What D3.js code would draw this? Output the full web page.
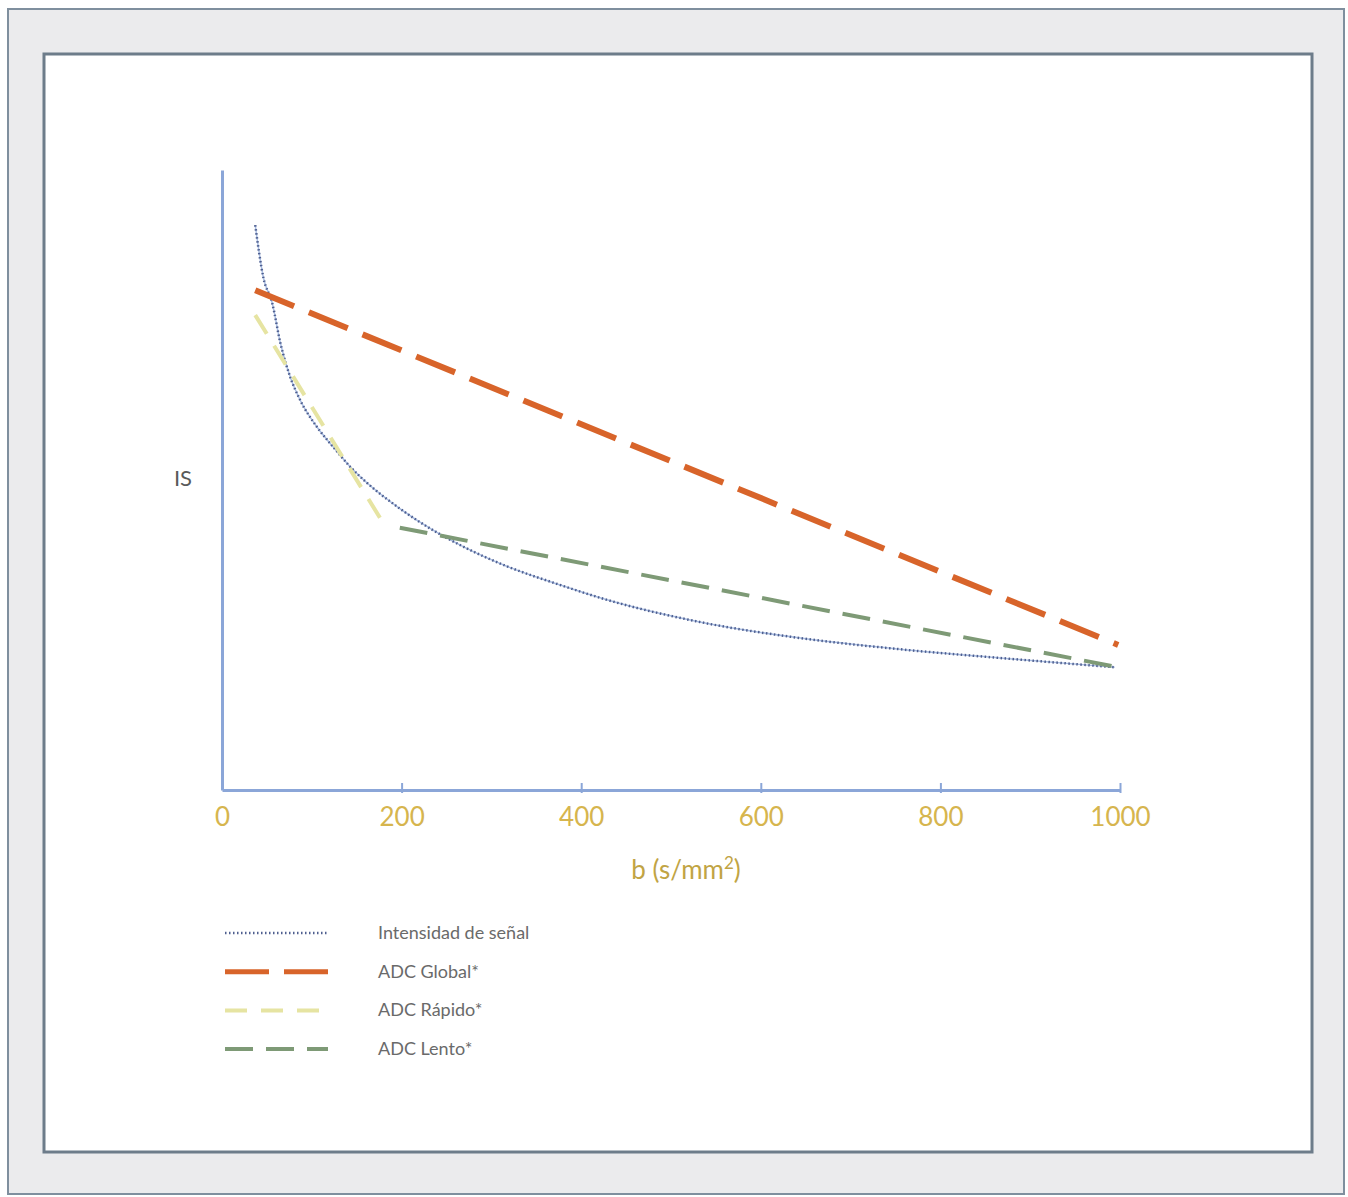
<!DOCTYPE html>
<html>
<head>
<meta charset="utf-8">
<script src="https://cdn.jsdelivr.net/npm/d3@7"></script>
<style>
  body { margin: 0; background: #ffffff; }
  svg { display: block; }
</style>
</head>
<body>
<svg id="chart"></svg>
<script>
// b values (s/mm2) and signal intensity
var signalB  = [37, 46, 56, 65, 76, 87, 106, 124, 143, 161, 198, 235, 268, 317, 376, 421, 532, 644, 755, 866, 994];
var signalIS = [91.1, 82.7, 78.5, 72.1, 66.6, 62.9, 58.5, 55.3, 52.1, 49.6, 45.4, 41.9, 39.3, 36.1, 33.1, 31.0, 27.1, 24.5, 22.7, 21.3, 19.8];

var globalB  = [37, 998];
var globalIS = [80.6, 23.4];

var rapidoB  = [37, 181];
var rapidoIS = [76.6, 42.7];

var lentoB   = [198, 998];
var lentoIS  = [42.3, 19.8];

var xTicks = [0, 200, 400, 600, 800, 1000];

var legendNames = ["Intensidad de señal", "ADC Global*", "ADC Rápido*", "ADC Lento*"];

var width = 1348, height = 1197;
var svg = d3.select("#chart").attr("width", width).attr("height", height);

// frame
svg.append("rect").attr("x", 0).attr("y", 0).attr("width", width).attr("height", height)
  .attr("fill", "#ffffff");
svg.append("rect").attr("x", 8).attr("y", 9).attr("width", 1336).attr("height", 1185)
  .attr("fill", "#ebebed").attr("stroke", "#7f8f9e").attr("stroke-width", 2);
svg.append("rect").attr("x", 44).attr("y", 54).attr("width", 1268).attr("height", 1098)
  .attr("fill", "#ffffff").attr("stroke", "#6d7c8a").attr("stroke-width", 3);

var x = d3.scaleLinear().domain([0, 1000]).range([222, 1120]);
var y = d3.scaleLinear().domain([0, 100]).range([790, 170]);

var line = d3.line()
  .x(function(d) { return x(d[0]); })
  .y(function(d) { return y(d[1]); });
var curve = d3.line()
  .x(function(d) { return x(d[0]); })
  .y(function(d) { return y(d[1]); })
  .curve(d3.curveMonotoneX);

function pairs(a, b) { return a.map(function(v, i) { return [v, b[i]]; }); }

// axes
var axisColor = "#8ba6d8";
var xAxis = svg.append("g")
  .attr("transform", "translate(0," + y(0) + ")")
  .call(d3.axisBottom(x).tickValues(xTicks).tickSize(0).tickPadding(18).tickFormat(d3.format("d")));
xAxis.select(".domain").attr("stroke", axisColor).attr("stroke-width", 3);
xAxis.selectAll(".tick text")
  .attr("fill", "#d6b54e").attr("font-family", "Lato, 'Open Sans', sans-serif").attr("font-size", 26);
xAxis.selectAll(".tick").filter(function(d) { return d > 0; })
  .append("line").attr("y1", -7).attr("y2", 3).attr("stroke", axisColor).attr("stroke-width", 2);

var yAxis = svg.append("g")
  .attr("transform", "translate(" + x(0) + ",0)")
  .call(d3.axisLeft(y).tickValues([]).tickSizeOuter(0));
yAxis.select(".domain").attr("stroke", axisColor).attr("stroke-width", 3);

var xTitle = svg.append("text").attr("x", 686).attr("y", 879).attr("text-anchor", "middle")
  .attr("fill", "#c1a444").attr("font-family", "Lato, 'Open Sans', sans-serif").attr("font-size", 26);
xTitle.append("tspan").text("b (s/mm");
xTitle.append("tspan").attr("dy", -10).attr("font-size", 17).text("2");
xTitle.append("tspan").attr("dy", 10).text(")");

svg.append("text").attr("x", 183).attr("y", 486).attr("text-anchor", "middle")
  .attr("fill", "#5a5a5a").attr("font-family", "Lato, 'Open Sans', sans-serif").attr("font-size", 22)
  .text("IS");

// series styles
var styles = [
  { color: "#4f5f8f", width: 2.5, dash: "1.5,2.5" },
  { color: "#d8642a", width: 6, dash: "42,16" },
  { color: "#e6e4a2", width: 4, dash: "22,14" },
  { color: "#7e9a76", width: 4, dash: "28,13" }
];

// signal curve: faint solid under a dotted line
svg.append("path").datum(pairs(signalB, signalIS)).attr("d", curve)
  .attr("fill", "none").attr("stroke", "#a9bde2").attr("stroke-width", 1.5);
svg.append("path").datum(pairs(signalB, signalIS)).attr("d", curve)
  .attr("fill", "none").attr("stroke", styles[0].color).attr("stroke-width", styles[0].width)
  .attr("stroke-dasharray", styles[0].dash);

svg.append("path").datum(pairs(rapidoB, rapidoIS)).attr("d", line)
  .attr("fill", "none").attr("stroke", styles[2].color).attr("stroke-width", styles[2].width)
  .attr("stroke-dasharray", styles[2].dash);
svg.append("path").datum(pairs(lentoB, lentoIS)).attr("d", line)
  .attr("fill", "none").attr("stroke", styles[3].color).attr("stroke-width", styles[3].width)
  .attr("stroke-dasharray", styles[3].dash);
svg.append("path").datum(pairs(globalB, globalIS)).attr("d", line)
  .attr("fill", "none").attr("stroke", styles[1].color).attr("stroke-width", styles[1].width)
  .attr("stroke-dasharray", styles[1].dash);

// legend
var legend = svg.append("g").selectAll("g").data(legendNames).enter().append("g")
  .attr("transform", function(d, i) { return "translate(225," + (933 + i * 38.7) + ")"; });
legend.append("line").attr("x1", 0).attr("x2", 103).attr("y1", 0).attr("y2", 0)
  .attr("stroke", function(d, i) { return styles[i].color; })
  .attr("stroke-width", function(d, i) { return i === 1 ? 5 : styles[i].width; })
  .attr("stroke-dasharray", function(d, i) { return i === 1 ? "44,15" : styles[i].dash; });
legend.append("text").attr("x", 153).attr("y", 6)
  .attr("fill", "#6a6a6a").attr("font-family", "Lato, 'Open Sans', sans-serif").attr("font-size", 18)
  .text(function(d) { return d; });
</script>
</body>
</html>
